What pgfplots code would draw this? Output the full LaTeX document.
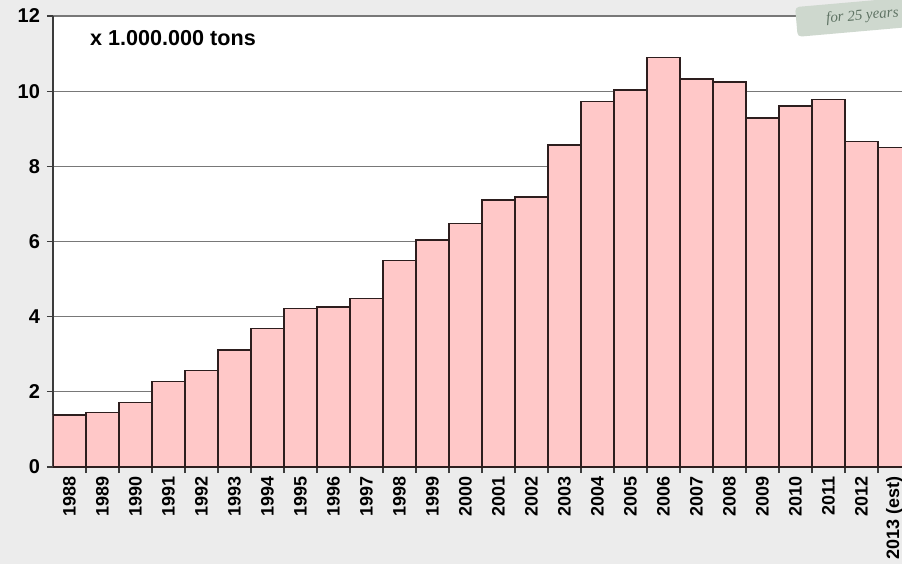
\documentclass[border=0pt]{standalone}
\usepackage{pgfplots}
\pgfplotsset{compat=1.18}
\usepackage{fontspec}
\setmainfont{Liberation Sans}
\newfontfamily\serifit{Liberation Serif}
\definecolor{bg}{RGB}{236,236,236}
\definecolor{barpink}{RGB}{255,200,200}
\definecolor{bardraw}{RGB}{45,30,30}
\definecolor{gridgray}{RGB}{120,120,120}
\definecolor{logobg}{RGB}{206,216,206}
\definecolor{logotx}{RGB}{95,115,100}
\begin{document}
\begin{tikzpicture}
\fill[bg] (0,0) rectangle (451pt,282pt);
\begin{axis}[
  at={(26.5pt,48.5pt)}, anchor=south west,
  scale only axis, width=424.5pt, height=225.5pt,
  xmin=-0.5, xmax=25.23, ymin=0, ymax=12,
  axis background/.style={fill=white},
  axis x line*=bottom, axis y line*=left,
  axis line style={draw={rgb,255:red,60;green,60;blue,60}, line width=0.6pt},
  ytick={0,2,...,12},
  ymajorgrids, grid style={gridgray, line width=0.6pt},
  xtick={0,...,25},
  xticklabels={1988,1989,1990,1991,1992,1993,1994,1995,1996,1997,1998,1999,2000,2001,2002,2003,2004,2005,2006,2007,2008,2009,2010,2011,2012,2013 (est)},
  minor x tick num=1,
  every major x tick/.append style={draw=none},
  tick align=outside,
  major tick length=3pt, minor tick length=3pt,
  tick style={draw={rgb,255:red,60;green,60;blue,60}, line width=0.6pt},
  x tick label style={rotate=90, anchor=east, inner sep=1.5pt, font=\bfseries\fontsize{9}{10}\selectfont},
  y tick label style={font=\bfseries\fontsize{10}{12}\selectfont},
  /pgf/number format/assume math mode=true,
  ybar, bar width=1, bar shift=0pt,
]
\addplot[fill=barpink, draw=bardraw, line width=0.7pt] coordinates {
(0,1.38) (1,1.45) (2,1.72) (3,2.27) (4,2.56) (5,3.11) (6,3.69) (7,4.22)
(8,4.26) (9,4.49) (10,5.50) (11,6.04) (12,6.48) (13,7.10) (14,7.18)
(15,8.57) (16,9.72) (17,10.03) (18,10.90) (19,10.32) (20,10.24)
(21,9.29) (22,9.61) (23,9.78) (24,8.66) (25,8.50)
};
\node[anchor=west, font=\bfseries\fontsize{10.8}{12}\selectfont] at (axis cs:0.41,11.42) {x 1.000.000 tons};
\end{axis}
\node[rotate=5, fill=logobg, rounded corners=2pt, inner xsep=15pt, inner ysep=4pt, anchor=west, text=logotx, font=\serifit\itshape\fontsize{7.5}{8}\selectfont] at (398pt,271pt) {for 25 years};
\pgfresetboundingbox
\useasboundingbox (0,0) rectangle (451pt,282pt);
\end{tikzpicture}
\end{document}
